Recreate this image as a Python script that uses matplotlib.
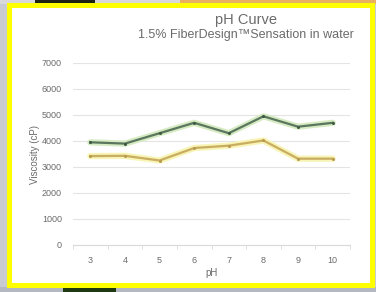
import matplotlib
matplotlib.use("Agg")
import matplotlib.pyplot as plt
from matplotlib.patches import Rectangle
import numpy as np

# data
ph = [3, 4, 5, 6, 7, 8, 9, 10]
visc_green = [3950, 3900, 4300, 4700, 4300, 4950, 4550, 4700]
visc_yellow = [3420, 3430, 3250, 3730, 3820, 4020, 3320, 3320]
yticks = [0, 1000, 2000, 3000, 4000, 5000, 6000, 7000]

W, H = 376, 292
TXT = "#6b6b6b"

plt.rcParams["font.family"] = ["Liberation Sans", "DejaVu Sans"]

fig = plt.figure(figsize=(W / 100, H / 100), dpi=100)
fig.patch.set_facecolor("#c9cbd2")


def px_rect(x0, y0, x1, y1, color, z=0):
    # rectangle given in pixel coords (origin top-left)
    fig.patches.append(Rectangle((x0 / W, 1 - y1 / H), (x1 - x0) / W, (y1 - y0) / H,
                                 transform=fig.transFigure, facecolor=color,
                                 edgecolor="none", zorder=z))


# background photo bits around the frame
px_rect(0, 0, 376, 4, "#d9d9dc")
px_rect(35, 0, 95, 4, "#1e2414")
px_rect(180, 0, 376, 4, "#e9b060")
px_rect(0, 287, 376, 292, "#b4b8c0")
px_rect(63, 287, 116, 292, "#1f3a12")
# yellow frame and white card
px_rect(7, 3, 375, 288, "#ffff00", z=1)
px_rect(12, 8, 370, 283, "#ffffff", z=2)

ax = fig.add_axes([73 / W, 1 - 245 / H, (350 - 73) / W, (245 - 63) / H])
ax.set_zorder(3)
ax.set_facecolor("none")

# soft glow under each line, then the line itself
ax.plot(ph, visc_green, color="#d6ebc2", linewidth=4.5, solid_capstyle="round", zorder=3)
ax.plot(ph, visc_green, color="#5a765e", linewidth=1.6, marker="o", markersize=2.2,
        markerfacecolor="#3f5a44", markeredgewidth=0, zorder=4)
ax.plot(ph, visc_yellow, color="#f7f4b4", linewidth=4.5, solid_capstyle="round", zorder=3)
ax.plot(ph, visc_yellow, color="#c9ad62", linewidth=1.6, marker="o", markersize=2.2,
        markerfacecolor="#b89a50", markeredgewidth=0, zorder=4)

ax.set_xlim(2.53, 10.25)
ax.set_ylim(0, 7000)
ax.set_yticks(yticks)
ax.set_yticklabels([str(v) for v in yticks])
ax.set_xticks(ph)
ax.set_xticklabels([str(v) for v in ph])
ax.set_xticks(np.arange(2.5, 10.6, 1), minor=True)
ax.grid(axis="y", color="#e4e4e4", linewidth=0.8)
ax.set_axisbelow(True)
for s in ["top", "right", "left"]:
    ax.spines[s].set_visible(False)
ax.spines["bottom"].set_color("#d9d9d9")
ax.spines["bottom"].set_linewidth(0.8)
ax.tick_params(axis="y", length=0, labelsize=6.5, labelcolor=TXT, pad=8)
ax.tick_params(axis="x", which="major", length=0, labelsize=6.5, labelcolor=TXT, pad=8)
ax.tick_params(axis="x", which="minor", length=3, color="#d9d9d9", width=0.6)

ax.set_ylabel("Viscosity (cP)", fontsize=7, color=TXT, labelpad=1)
ax.set_xlabel("pH", fontsize=7, color=TXT, labelpad=2)

fig.text(246 / W, 1 - 20 / H, "pH Curve", ha="center", va="center",
         fontsize=10.5, color=TXT, zorder=5)
fig.text(246 / W, 1 - 35 / H, "1.5% FiberDesign\u2122Sensation in water",
         ha="center", va="center", fontsize=9, color=TXT, zorder=5)

fig.savefig("out.png", dpi=100)
